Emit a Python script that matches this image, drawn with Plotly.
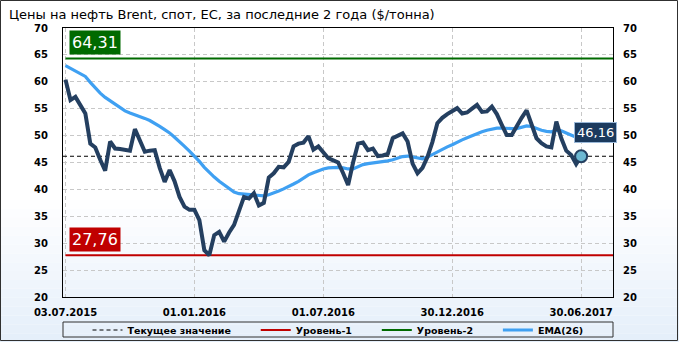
import plotly.graph_objects as go
import pandas as pd

# ---------------- data ----------------
dates = pd.date_range("2015-07-03", periods=105, freq="7D")

price = [60.4, 56.6, 57.2, 55.8, 54.1, 48.5, 47.8, 45.5, 43.5, 48.9,
         47.6, 47.5, 47.4, 47.2, 51.2, 49.0, 47.0, 47.2, 47.3, 44.0,
         41.4, 43.6, 41.5, 38.6, 36.8, 36.2, 36.2, 34.3, 28.7, 27.76,
         31.5, 32.1, 30.3, 32.0, 33.4, 36.0, 38.6, 38.3, 39.3, 37.0,
         37.5, 42.2, 43.0, 44.2, 44.1, 45.1, 48.0, 48.5, 48.7, 49.9,
         47.4, 48.0, 46.8, 45.8, 45.4, 45.0, 43.0, 40.8, 45.0, 48.5,
         48.7, 47.3, 47.6, 46.2, 46.3, 46.6, 49.5, 50.0, 50.4, 48.9,
         44.8, 43.0, 44.0, 46.0, 48.8, 52.3, 53.3, 54.0, 54.5, 55.1,
         54.1, 54.3, 55.0, 55.7, 54.4, 54.5, 55.4, 54.0, 52.0, 50.1,
         50.1, 51.8, 53.3, 54.7, 52.0, 49.5, 48.6, 48.0, 47.8, 52.6,
         49.5, 47.2, 46.4, 44.7, 46.16]

ema26 = [63.0, 62.5, 62.1, 61.6, 61.0, 59.9, 58.8, 57.9, 57.1, 56.5,
         55.9, 55.2, 54.6, 54.2, 53.9, 53.6, 53.2, 52.8, 52.3, 51.7,
         51.1, 50.5, 49.7, 48.9, 48.0, 47.1, 46.2, 45.2, 44.1, 43.1,
         42.3, 41.5, 40.8, 40.1, 39.5, 39.2, 39.1, 39.1, 39.0, 38.9,
         38.8, 39.0, 39.3, 39.7, 40.1, 40.5, 41.0, 41.5, 42.1, 42.7,
         43.1, 43.5, 43.8, 44.0, 44.1, 44.1, 44.0, 43.8, 43.8, 44.2,
         44.6, 44.8, 44.9, 45.0, 45.1, 45.3, 45.5, 45.8, 46.1, 46.2,
         46.0, 45.8, 45.7, 46.0, 46.5, 46.9, 47.4, 47.9, 48.3, 48.8,
         49.2, 49.6, 50.0, 50.4, 50.7, 51.0, 51.2, 51.4, 51.4, 51.3,
         51.3, 51.3, 51.5, 51.8, 51.7, 51.3, 51.0, 50.8, 50.7, 51.0,
         50.9, 50.5, 50.1, 49.7, 49.5]

current_value = 46.16
level1 = 27.76
level2 = 64.31

x_tick_dates = ["2015-07-03", "2016-01-01", "2016-07-01", "2016-12-30", "2017-06-30"]
x_tick_labels = ["03.07.2015", "01.01.2016", "01.07.2016", "30.12.2016", "30.06.2017"]
y_ticks = [20, 25, 30, 35, 40, 45, 50, 55, 60, 65, 70]

title_text = "Цены на нефть Brent, спот, ЕС, за последние 2 года ($/тонна)"

# ---------------- layout geometry ----------------
W, H = 679, 342
ML, MR, MT, MB = 63, 66, 28, 45
PW = W - ML - MR
PH = H - MT - MB


def px(x):
    return (x - ML) / PW


def py(y):
    return (H - MB - y) / PH


FONT = "DejaVu Sans"
NAVY = "#243f60"
EMA_C = "#3fa0f2"
RED = "#c00000"
GREEN = "#006a00"
NB = "\u00a0"

x_range = ["2015-06-29 11:00", "2017-08-14"]

fig = go.Figure()

fig.add_trace(go.Scatter(
    x=[x_range[0], x_range[1]], y=[current_value, current_value],
    mode="lines", name="Текущее значение" + NB * 6,
    line=dict(color="black", width=1, dash="4px,3px")))
fig.add_trace(go.Scatter(
    x=[dates[0], x_range[1]], y=[level1, level1],
    mode="lines", name="Уровень-1" + NB * 6,
    line=dict(color=RED, width=2)))
fig.add_trace(go.Scatter(
    x=[dates[0], x_range[1]], y=[level2, level2],
    mode="lines", name="Уровень-2" + NB * 6,
    line=dict(color=GREEN, width=2)))
fig.add_trace(go.Scatter(
    x=dates, y=ema26, mode="lines", name="EMA(26)",
    line=dict(color=EMA_C, width=3.2)))
fig.add_trace(go.Scatter(
    x=dates, y=price, mode="lines", showlegend=False,
    line=dict(color=NAVY, width=4, shape="linear")))
fig.add_trace(go.Scatter(
    x=[dates[-1]], y=[price[-1]], mode="markers", showlegend=False,
    marker=dict(size=12, color="#6db8d2", line=dict(color=NAVY, width=2))))
# right axis carrier
fig.add_trace(go.Scatter(x=[dates[-1]], y=[None], yaxis="y2",
                         showlegend=False, hoverinfo="skip"))

# ---------------- background shapes ----------------
shapes = []
top_px, bot_px, n = 200, 342, 16
for i in range(n):
    y0 = top_px + (bot_px - top_px) * i / n
    y1 = top_px + (bot_px - top_px) * (i + 1) / n
    t = (i + 0.5) / n
    r = round(255 - (255 - 228) * t)
    g = round(255 - (255 - 238) * t)
    b = round(255 - (255 - 250) * t)
    shapes.append(dict(type="rect", xref="paper", yref="paper",
                       x0=px(0), x1=px(W), y0=py(y1), y1=py(y0),
                       fillcolor=f"rgb({r},{g},{b})", line=dict(width=0),
                       layer="below"))
# outer border
shapes.append(dict(type="rect", xref="paper", yref="paper",
                   x0=px(0.5), x1=px(W - 1.5), y0=py(H - 1.5), y1=py(0.5),
                   line=dict(color="#303030", width=1), layer="above"))
# legend frame
shapes.append(dict(type="rect", xref="paper", yref="paper",
                   x0=0, x1=1, y0=py(337), y1=py(322),
                   line=dict(color="#303030", width=1), layer="above"))


def fmt(v):
    return f"{v:.2f}".replace(".", ",")


annotations = [
    dict(text=title_text, xref="paper", yref="paper", x=px(7), y=py(14),
         xanchor="left", yanchor="middle", showarrow=False,
         font=dict(family=FONT, size=13, color="black")),
    dict(text=fmt(level2), xref="paper", yref="y", x=px(69), y=level2,
         xanchor="left", yanchor="bottom", yshift=4, showarrow=False,
         bgcolor=GREEN, borderpad=2,
         font=dict(family=FONT, size=16, color="white")),
    dict(text=fmt(level1), xref="paper", yref="y", x=px(69), y=level1,
         xanchor="left", yanchor="bottom", yshift=3, showarrow=False,
         bgcolor=RED, borderpad=2,
         font=dict(family=FONT, size=16, color="white")),
    dict(text=fmt(current_value), xref="x", yref="y", x=dates[-1], y=current_value,
         xanchor="left", yanchor="bottom", xshift=-7, yshift=13, showarrow=False,
         bgcolor="#1b3a5e", bordercolor="#9ab8d8", borderwidth=1, borderpad=2,
         font=dict(family=FONT, size=13, color="white")),
]

tickfont = dict(family=FONT, size=10, color="black", weight="bold")

fig.update_layout(
    width=W, height=H,
    margin=dict(l=ML, r=MR, t=MT, b=MB, pad=0, autoexpand=False),
    paper_bgcolor="white", plot_bgcolor="rgba(0,0,0,0)",
    showlegend=True,
    legend=dict(orientation="h", x=0.5, xanchor="center",
                yref="container", y=(H - 330) / H, yanchor="middle",
                bgcolor="rgba(0,0,0,0)", borderwidth=0,
                font=dict(family=FONT, size=9.5, color="black", weight="bold"),
                itemwidth=30, tracegroupgap=0),
    xaxis=dict(type="date", range=x_range, automargin=False,
               tickvals=x_tick_dates, ticktext=x_tick_labels,
               tickfont=tickfont, ticks="", ticklabelstandoff=6,
               showgrid=True, gridcolor="#c8c8c8", griddash="4px,3px", gridwidth=1,
               showline=True, linecolor="black", linewidth=1, mirror=True,
               zeroline=False, fixedrange=True),
    yaxis=dict(range=[20, 70], tickvals=y_ticks, tickfont=tickfont, automargin=False,
               ticks="", ticklabelstandoff=12,
               showgrid=True, gridcolor="#c8c8c8", griddash="4px,3px", gridwidth=1,
               showline=True, linecolor="black", linewidth=1, mirror=True,
               zeroline=False),
    yaxis2=dict(range=[20, 70], tickvals=y_ticks, tickfont=tickfont, automargin=False,
                overlaying="y", side="right", ticks="", ticklabelstandoff=9,
                showgrid=False, showline=False, zeroline=False),
    shapes=shapes,
    annotations=annotations,
    hovermode=False,
)

fig.write_html("out.html")
